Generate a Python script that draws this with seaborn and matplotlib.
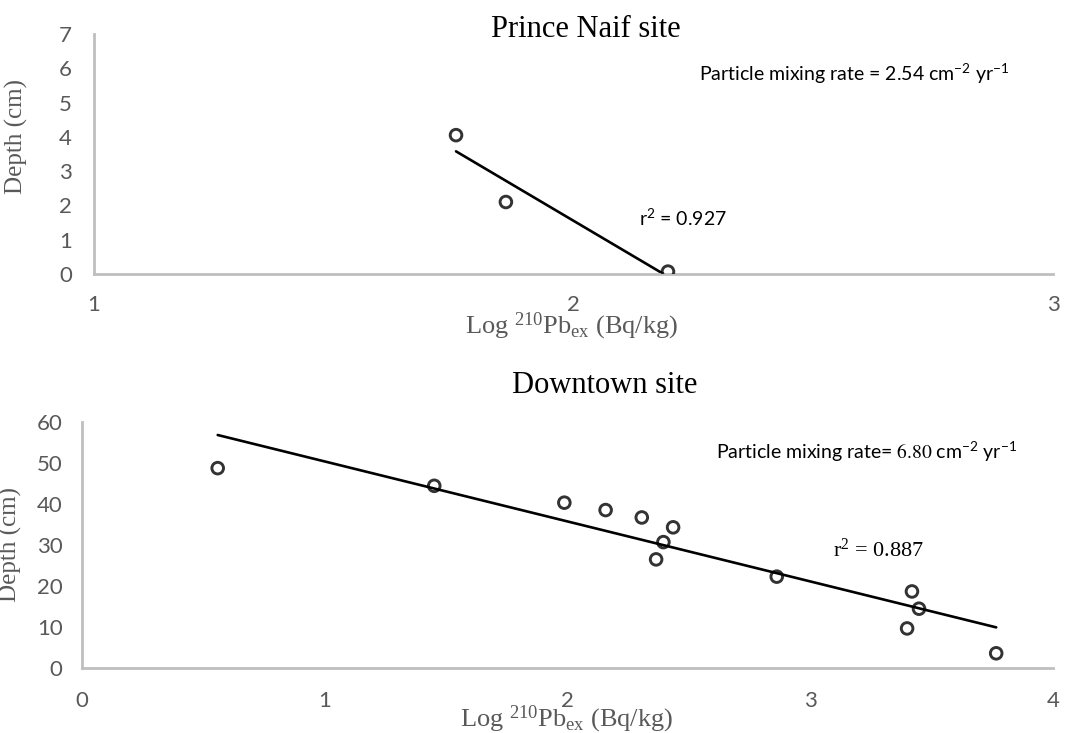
import matplotlib
matplotlib.use("Agg")
import matplotlib.pyplot as plt
import seaborn as sns
import pandas as pd

# ---- data ----
naif_log = [1.755, 1.859, 2.197]
naif_depth = [4.05, 2.10, 0.07]

down_log = [0.559, 1.451, 1.987, 2.157, 2.306, 2.435, 2.395, 2.365, 2.862, 3.419, 3.448, 3.399, 3.766]
down_depth = [48.7, 44.4, 40.3, 38.5, 36.7, 34.3, 30.7, 26.5, 22.3, 18.7, 14.5, 9.7, 3.65]

naif_xticks = [1, 2, 3]
naif_yticks = [0, 1, 2, 3, 4, 5, 6, 7]
down_xticks = [0, 1, 2, 3, 4]
down_yticks = [0, 10, 20, 30, 40, 50, 60]

titles = ["Prince Naif site", "Downtown site"]
xlabel = r"Log $\mathregular{^{210}Pb_{ex}}$ (Bq/kg)"
ylabel = "Depth (cm)"

sns.set_style("white")
plt.rcParams["font.family"] = ["Lato", "DejaVu Sans"]
plt.rcParams["mathtext.fontset"] = "stix"

SERIF = ["Liberation Serif", "DejaVu Serif"]
SANS = ["Lato", "DejaVu Sans"]
GRID = "#BFBFBF"
TXT = "#595959"

fig = plt.figure(figsize=(10.74, 7.33), dpi=100)
ax1 = fig.add_axes([94 / 1074, 1 - 274 / 733, 959 / 1074, 240 / 733])
ax2 = fig.add_axes([82 / 1074, 1 - 668.3 / 733, 971 / 1074, 246.6 / 733])

df1 = pd.DataFrame({"x": naif_log, "y": naif_depth})
df2 = pd.DataFrame({"x": down_log, "y": down_depth})

for ax, df in ((ax1, df1), (ax2, df2)):
    sns.regplot(data=df, x="x", y="y", ax=ax, ci=None, truncate=True,
                scatter_kws=dict(s=70, facecolors="none", edgecolors="black",
                                 linewidths=2.1, zorder=3),
                line_kws=dict(color="black", lw=1.9, zorder=2))
    for s in ("top", "right"):
        ax.spines[s].set_visible(False)
    for s in ("left", "bottom"):
        ax.spines[s].set_color(GRID)
        ax.spines[s].set_linewidth(2)
    ax.set_xlabel(xlabel, fontfamily=SERIF, fontsize=19, color=TXT)
    ax.set_ylabel(ylabel, fontfamily=SERIF, fontsize=18, color=TXT)
    ax.xaxis.label.set_va("baseline")

ax1.set_xlim(1, 3)
ax1.set_ylim(0, 7)
ax1.set_xticks(naif_xticks)
ax1.set_yticks(naif_yticks)
ax1.tick_params(axis="x", length=5, width=2, color=GRID, pad=10, labelsize=16, labelcolor=TXT)
ax1.tick_params(axis="y", length=5, width=2, color=GRID, pad=11, labelsize=16, labelcolor=TXT)
ax1.xaxis.set_label_coords(0.498, -0.246)
ax1.yaxis.set_label_coords(-0.069, 0.571)

ax2.set_xlim(0, 4)
ax2.set_ylim(0, 60)
ax2.set_xticks(down_xticks)
ax2.set_yticks(down_yticks)
ax2.tick_params(axis="x", length=5, width=2, color=GRID, pad=11, labelsize=16, labelcolor=TXT)
ax2.tick_params(axis="y", length=5, width=2, color=GRID, pad=9, labelsize=16, labelcolor=TXT)
ax2.xaxis.set_label_coords(0.4995, -0.236)
ax2.yaxis.set_label_coords(-0.062, 0.5)

for lab in ax1.get_xticklabels() + ax1.get_yticklabels() + ax2.get_xticklabels() + ax2.get_yticklabels():
    lab.set_fontfamily(SANS)

fig.text(586 / 1074, 1 - 36.7 / 733, titles[0], ha="center", va="baseline",
         fontfamily=SERIF, fontsize=22, color="black")
fig.text(605 / 1074, 1 - 393 / 733, titles[1], ha="center", va="baseline",
         fontfamily=SERIF, fontsize=22, color="black")

ax1.text(2.262, 5.83, r"Particle mixing rate = 2.54 cm$\mathregular{^{-2}}$ yr$\mathregular{^{-1}}$",
         ha="left", va="center", fontsize=14, fontfamily=SANS, color="black")
ax1.text(2.137, 1.63, r"r$\mathregular{^{2}}$ = 0.927",
         ha="left", va="center", fontsize=14, fontfamily=SANS, color="black")

ax2.text(2.61, 52.7, r"Particle mixing rate= $\mathrm{6.80}$ cm$\mathregular{^{-2}}$ yr$\mathregular{^{-1}}$",
         ha="left", va="center", fontsize=14, fontfamily=SANS, color="black")
ax2.text(3.094, 28.8, r"r$\mathregular{^{2}}$ = 0.887",
         ha="left", va="center", fontsize=16, fontfamily=SERIF, color="black")

fig.savefig("out.png", dpi=100)
